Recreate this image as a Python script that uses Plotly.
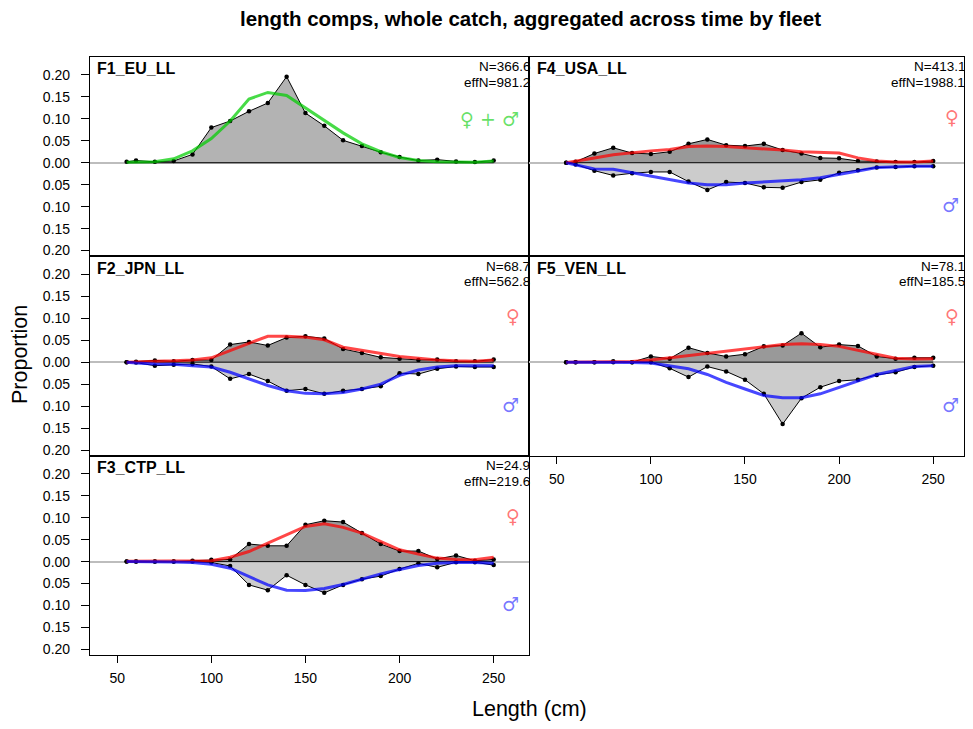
import plotly.graph_objects as go

# ---------------- data ----------------
lengths = [55, 60, 70, 80, 90, 100, 110, 120, 130, 140, 150, 160, 170, 180, 190, 200, 210, 220, 230, 240, 250]
x_ticks = [50, 100, 150, 200, 250]
y_ticks = [-0.20, -0.15, -0.10, -0.05, 0.00, 0.05, 0.10, 0.15, 0.20]
y_tick_text = ["0.20", "0.15", "0.10", "0.05", "0.00", "0.05", "0.10", "0.15", "0.20"]

fleet_names = ["F1_EU_LL", "F2_JPN_LL", "F3_CTP_LL", "F4_USA_LL", "F5_VEN_LL"]
fleet_N = ["366.6", "68.7", "24.9", "413.1", "78.1"]
fleet_effN = ["981.2", "562.8", "219.6", "1988.1", "185.5"]

# F1: sexes combined
F1_obs = [0.002, 0.005, 0.002, 0.004, 0.019, 0.080, 0.095, 0.117, 0.136, 0.196, 0.113, 0.084, 0.051, 0.038, 0.024, 0.013, 0.005, 0.007, 0.003, 0.0015, 0.005]
F1_exp = [0.001, 0.001, 0.002, 0.009, 0.027, 0.055, 0.095, 0.145, 0.160, 0.153, 0.125, 0.096, 0.068, 0.043, 0.025, 0.012, 0.005, 0.002, 0.001, 0.001, 0.004]

# F2
F2_f_obs = [0.0, 0.001, 0.004, 0.002, 0.005, 0.005, 0.040, 0.046, 0.038, 0.056, 0.059, 0.054, 0.030, 0.021, 0.011, 0.008, 0.005, 0.006, 0.002, 0.002, 0.006]
F2_f_exp = [0.0, 0.001, 0.002, 0.003, 0.005, 0.010, 0.027, 0.043, 0.059, 0.059, 0.057, 0.051, 0.034, 0.027, 0.019, 0.013, 0.009, 0.005, 0.003, 0.002, 0.005]
F2_m_obs = [0.0, 0.001, 0.008, 0.006, 0.004, 0.010, 0.038, 0.027, 0.043, 0.065, 0.061, 0.072, 0.065, 0.061, 0.055, 0.025, 0.027, 0.015, 0.010, 0.011, 0.011]
F2_m_exp = [0.0, 0.002, 0.004, 0.005, 0.008, 0.011, 0.023, 0.038, 0.053, 0.065, 0.071, 0.072, 0.069, 0.061, 0.050, 0.030, 0.018, 0.011, 0.008, 0.008, 0.008]

# F3
F3_f_obs = [0.0, 0.0, 0.0, 0.0, 0.002, 0.004, 0.005, 0.040, 0.036, 0.036, 0.084, 0.093, 0.090, 0.065, 0.040, 0.024, 0.024, 0.006, 0.014, 0.002, 0.005]
F3_f_exp = [0.001, 0.001, 0.001, 0.001, 0.001, 0.002, 0.010, 0.023, 0.042, 0.061, 0.080, 0.086, 0.078, 0.065, 0.046, 0.027, 0.017, 0.008, 0.005, 0.004, 0.010]
F3_m_obs = [0.0, 0.0, 0.0, 0.0, 0.0, 0.002, 0.010, 0.053, 0.065, 0.031, 0.053, 0.071, 0.053, 0.040, 0.033, 0.017, 0.004, 0.013, 0.0015, 0.0015, 0.008]
F3_m_exp = [0.0, 0.0, 0.0, 0.001, 0.002, 0.006, 0.015, 0.034, 0.053, 0.065, 0.066, 0.061, 0.052, 0.040, 0.028, 0.018, 0.009, 0.004, 0.002, 0.002, 0.004]

# F4
F4_f_obs = [0.0, 0.002, 0.021, 0.034, 0.022, 0.020, 0.025, 0.043, 0.053, 0.040, 0.038, 0.043, 0.029, 0.021, 0.011, 0.010, 0.004, 0.003, 0.0015, 0.0015, 0.004]
F4_f_exp = [0.0, 0.004, 0.011, 0.018, 0.023, 0.027, 0.030, 0.037, 0.038, 0.037, 0.034, 0.032, 0.029, 0.025, 0.023, 0.022, 0.011, 0.004, 0.0015, 0.0015, 0.004]
F4_m_obs = [0.0, 0.004, 0.018, 0.029, 0.024, 0.021, 0.021, 0.043, 0.062, 0.044, 0.046, 0.056, 0.057, 0.044, 0.039, 0.023, 0.017, 0.011, 0.010, 0.008, 0.008]
F4_m_exp = [0.0, 0.005, 0.014, 0.015, 0.023, 0.030, 0.038, 0.046, 0.050, 0.050, 0.046, 0.044, 0.042, 0.039, 0.034, 0.027, 0.019, 0.011, 0.009, 0.008, 0.008]

# F5
F5_f_obs = [0.0, 0.0, 0.0, 0.002, 0.0, 0.013, 0.008, 0.033, 0.021, 0.013, 0.018, 0.036, 0.038, 0.066, 0.034, 0.040, 0.037, 0.013, 0.008, 0.010, 0.010]
F5_f_exp = [0.0, 0.0, 0.0, 0.001, 0.0015, 0.005, 0.010, 0.015, 0.021, 0.025, 0.030, 0.036, 0.040, 0.042, 0.040, 0.036, 0.027, 0.017, 0.009, 0.007, 0.008]
F5_m_obs = [0.0, 0.0, 0.0, 0.0, 0.0, 0.0, 0.014, 0.034, 0.010, 0.021, 0.040, 0.072, 0.141, 0.082, 0.057, 0.043, 0.040, 0.029, 0.023, 0.011, 0.008]
F5_m_exp = [0.0, 0.0, 0.0, 0.0, 0.0005, 0.002, 0.008, 0.015, 0.028, 0.046, 0.061, 0.076, 0.081, 0.081, 0.072, 0.057, 0.042, 0.028, 0.019, 0.010, 0.008]

# ---------------- layout helpers ----------------
# the page body has an 8px margin; keep the figure inside the window on all sides
OFF = 8
W, H = 973 - 2 * OFF, 729 - 2 * OFF
RIGHT = OFF + W          # right-most visible pixel of the figure
FONT = "Liberation Sans, Arial, sans-serif"
SYM_FONT = "DejaVu Sans"

def px_x(px):
    return (px - OFF) / W

def px_y(py):
    return 1 - (py - OFF) / H

cols = {1: [px_x(90), px_x(530)], 2: [px_x(530), px_x(RIGHT)]}
rows = {1: [px_y(257), px_y(57)], 2: [px_y(457), px_y(257)], 3: [px_y(657), px_y(457)]}

XR1 = [35.5, 269.0]
scale = 440.0 / (XR1[1] - XR1[0])                 # pixels per cm
XR2 = [35.5, 35.5 + (RIGHT - 530) / scale]       # same scale in the right column
YR = [-0.213, 0.241]

# panel index -> (fleet index, row, col, has sexes, show x labels)
panels = [
    (0, 1, 1, False, False),
    (1, 2, 1, True, False),
    (2, 3, 1, True, True),
    (3, 1, 2, True, False),
    (4, 2, 2, True, True),
]
sexdata = {
    1: (F2_f_obs, F2_f_exp, F2_m_obs, F2_m_exp),
    2: (F3_f_obs, F3_f_exp, F3_m_obs, F3_m_exp),
    3: (F4_f_obs, F4_f_exp, F4_m_obs, F4_m_exp),
    4: (F5_f_obs, F5_f_exp, F5_m_obs, F5_m_exp),
}

fig = go.Figure()
annotations = []
layout_axes = {}

for i, (fi, r, c, sexes, showx) in enumerate(panels, start=1):
    xa = "x" if i == 1 else f"x{i}"
    ya = "y" if i == 1 else f"y{i}"
    xkey = "xaxis" if i == 1 else f"xaxis{i}"
    ykey = "yaxis" if i == 1 else f"yaxis{i}"

    layout_axes[xkey] = dict(
        domain=cols[c], range=XR1 if c == 1 else XR2, anchor=ya,
        showline=True, mirror=True, linecolor="black", linewidth=1,
        showgrid=False, zeroline=False,
        tickmode="array", tickvals=x_ticks,
        ticks="outside" if showx else "", ticklen=7, tickcolor="black",
        ticklabelstandoff=3,
        showticklabels=showx, tickfont=dict(family=FONT, size=14, color="black"),
        fixedrange=True,
    )
    layout_axes[ykey] = dict(
        domain=rows[r], range=YR, anchor=xa,
        showline=True, mirror=True, linecolor="black", linewidth=1,
        showgrid=False, zeroline=True, zerolinecolor="#bdbdbd", zerolinewidth=1.5,
        tickmode="array", tickvals=y_ticks, ticktext=y_tick_text,
        ticks="outside" if c == 1 else "", ticklen=8, tickcolor="black",
        ticklabelstandoff=8,
        showticklabels=(c == 1), tickfont=dict(family=FONT, size=14, color="black"),
        fixedrange=True,
    )

    if not sexes:
        fig.add_trace(go.Scatter(
            x=lengths, y=F1_obs, xaxis=xa, yaxis=ya, mode="lines+markers",
            fill="tozeroy", fillcolor="#b3b3b3",
            line=dict(color="black", width=1), marker=dict(color="black", size=4.5),
            showlegend=False, hoverinfo="skip"))
        fig.add_trace(go.Scatter(
            x=[lengths[0], lengths[-1]], y=[0, 0], xaxis=xa, yaxis=ya, mode="lines",
            line=dict(color="black", width=1), showlegend=False, hoverinfo="skip"))
        fig.add_trace(go.Scatter(
            x=lengths, y=F1_exp, xaxis=xa, yaxis=ya, mode="lines",
            line=dict(color="rgba(0,205,0,0.72)", width=3),
            showlegend=False, hoverinfo="skip"))
        annotations.append(dict(
            xref=xa, yref=ya, x=248.0, y=0.100, text="♀ + ♂", showarrow=False,
            font=dict(family=SYM_FONT, size=19, color="rgba(0,205,0,0.6)")))
    else:
        f_obs, f_exp, m_obs, m_exp = sexdata[fi]
        m_obs_neg = [-v for v in m_obs]
        m_exp_neg = [-v for v in m_exp]
        fig.add_trace(go.Scatter(
            x=lengths, y=f_obs, xaxis=xa, yaxis=ya, mode="lines+markers",
            fill="tozeroy", fillcolor="#999999",
            line=dict(color="black", width=1), marker=dict(color="black", size=4.5),
            showlegend=False, hoverinfo="skip"))
        fig.add_trace(go.Scatter(
            x=lengths, y=m_obs_neg, xaxis=xa, yaxis=ya, mode="lines+markers",
            fill="tozeroy", fillcolor="#cccccc",
            line=dict(color="black", width=1), marker=dict(color="black", size=4.5),
            showlegend=False, hoverinfo="skip"))
        fig.add_trace(go.Scatter(
            x=[lengths[0], lengths[-1]], y=[0, 0], xaxis=xa, yaxis=ya, mode="lines",
            line=dict(color="black", width=1), showlegend=False, hoverinfo="skip"))
        fig.add_trace(go.Scatter(
            x=lengths, y=f_exp, xaxis=xa, yaxis=ya, mode="lines",
            line=dict(color="rgba(255,0,0,0.72)", width=3),
            showlegend=False, hoverinfo="skip"))
        fig.add_trace(go.Scatter(
            x=lengths, y=m_exp_neg, xaxis=xa, yaxis=ya, mode="lines",
            line=dict(color="rgba(0,0,255,0.72)", width=3),
            showlegend=False, hoverinfo="skip"))
        annotations.append(dict(
            xref=xa, yref=ya, x=260.0, y=0.104, text="♀", showarrow=False,
            font=dict(family=SYM_FONT, size=19, color="rgba(255,0,0,0.55)")))
        annotations.append(dict(
            xref=xa, yref=ya, x=259.0, y=-0.097, text="♂", showarrow=False,
            font=dict(family=SYM_FONT, size=19, color="rgba(0,0,255,0.55)")))

    # panel label and sample sizes
    annotations.append(dict(
        xref=f"{xa} domain", yref=f"{ya} domain", x=0.012, y=0.94,
        xanchor="left", yanchor="middle", text=f"<b>{fleet_names[fi]}</b>",
        showarrow=False, font=dict(family=FONT, size=16, color="black")))
    annotations.append(dict(
        xref=f"{xa} domain", yref=f"{ya} domain", x=1.0, y=0.95,
        xanchor="right", yanchor="middle", text=f"N={fleet_N[fi]}",
        showarrow=False, xshift=2, borderpad=0,
        font=dict(family=FONT, size=13.5, color="black")))
    annotations.append(dict(
        xref=f"{xa} domain", yref=f"{ya} domain", x=1.0, y=0.872,
        xanchor="right", yanchor="middle", text=f"effN={fleet_effN[fi]}",
        showarrow=False, xshift=2, borderpad=0,
        font=dict(family=FONT, size=13.5, color="black")))

# titles
annotations.append(dict(
    xref="paper", yref="paper", x=px_x(531), y=px_y(19), xanchor="center", yanchor="middle",
    text="<b>length comps, whole catch, aggregated across time by fleet</b>",
    showarrow=False, borderpad=0, font=dict(family=FONT, size=20.5, color="black")))
annotations.append(dict(
    xref="paper", yref="paper", x=px_x(530), y=px_y(711), xanchor="center", yanchor="middle",
    text="Length (cm)", showarrow=False, font=dict(family=FONT, size=21.5, color="black")))
annotations.append(dict(
    xref="paper", yref="paper", x=px_x(20), y=px_y(355), xanchor="center", yanchor="middle",
    text="Proportion", textangle=-90, showarrow=False,
    font=dict(family=FONT, size=21.5, color="black")))

fig.update_layout(
    width=W, height=H,
    margin=dict(l=0, r=0, t=0, b=0),
    paper_bgcolor="white", plot_bgcolor="white",
    showlegend=False,
    annotations=annotations,
    **layout_axes,
)

fig.write_html("out.html")
